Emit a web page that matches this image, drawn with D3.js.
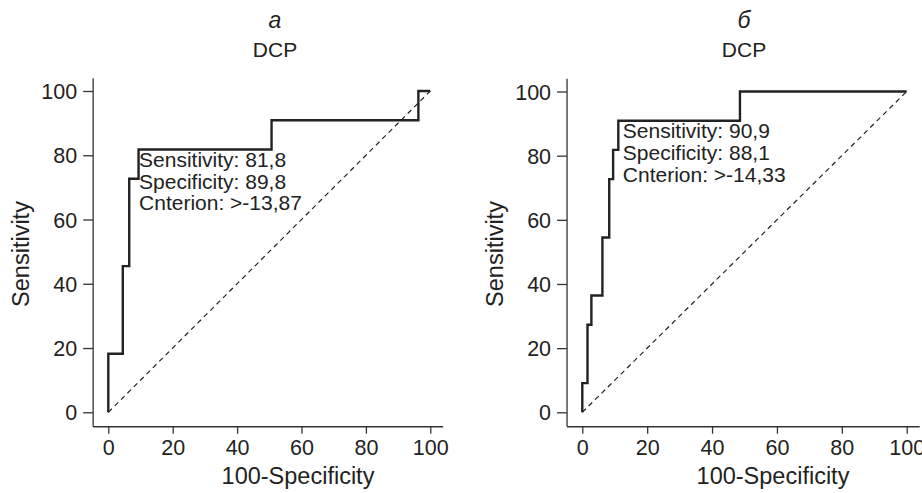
<!DOCTYPE html>
<html>
<head>
<meta charset="utf-8">
<script src="https://cdn.jsdelivr.net/npm/d3@7/dist/d3.min.js"></script>
<style>
  body{ margin:0; background:#fff; }
  svg{ display:block; font-family:"Liberation Sans", Arial, sans-serif; }
  .tick text{ font-size:21.5px; fill:#222; }
  .tick line{ stroke:#333; stroke-width:1.3; }
  .ann{ font-size:21px; fill:#222; }
  .ttl{ font-size:21px; fill:#222; }
  .axt{ font-size:23.5px; fill:#222; }
</style>
</head>
<body>
<svg id="chart" width="922" height="493"></svg>
<script>
/* Dos curvas ROC (a / б) para DCP */

const ticks = [0, 20, 40, 60, 80, 100];

// panel a
const fprA = [0, 0, 4.5, 4.5, 6.5, 6.5, 9.4, 9.4, 50.7, 50.7, 96.3, 96.3, 100];
const tprA = [0, 18.2, 18.2, 45.5, 45.5, 72.7, 72.7, 81.8, 81.8, 90.9, 90.9, 100, 100];
const annA = ["Sensitivity: 81,8", "Specificity: 89,8", "Cnterion: >-13,87"];

// panel б
const fprB = [0, 0, 1.6, 1.6, 2.8, 2.8, 6.2, 6.2, 8.3, 8.3, 9.5, 9.5, 11.1, 11.1, 48.6, 48.6, 100];
const tprB = [0, 9.1, 9.1, 27.3, 27.3, 36.4, 36.4, 54.5, 54.5, 72.7, 72.7, 81.8, 81.8, 90.9, 90.9, 100, 100];
const annB = ["Sensitivity: 90,9", "Specificity: 88,1", "Cnterion: >-14,33"];

const svg = d3.select("#chart");

const panels = [
  { letter:"a", fpr:fprA, tpr:tprA, ann:annA, annAt:[9.4, 81.8], annDx:0,
    xr:[108.3, 430.3], yr:[412.3, 91], titleX:275, axisTitleX:298, yTitleX:29 },
  { letter:"б", fpr:fprB, tpr:tprB, ann:annB, annAt:[11.1, 90.9], annDx:4,
    xr:[582.3, 906.7], yr:[412.3, 91.5], titleX:744, axisTitleX:773, yTitleX:503 }
];

panels.forEach(p => {
  const x = d3.scaleLinear().domain([0, 100]).range(p.xr);
  const y = d3.scaleLinear().domain([0, 100]).range(p.yr);
  const g = svg.append("g");

  // ejes: la línea del eje va algo más allá de 0 y 100
  const x0 = x(-4.7), y0 = y(-4.5);
  g.append("line").attr("x1", x0).attr("x2", x(104)).attr("y1", y0).attr("y2", y0)
    .attr("stroke", "#333").attr("stroke-width", 1.3);
  g.append("line").attr("x1", x0).attr("x2", x0).attr("y1", y0).attr("y2", y(104))
    .attr("stroke", "#333").attr("stroke-width", 1.3);

  const gx = g.append("g").attr("transform", `translate(0,${y0})`)
    .call(d3.axisBottom(x).tickValues(ticks).tickSize(7).tickPadding(6));
  gx.select(".domain").remove();

  const gy = g.append("g").attr("transform", `translate(${x0},0)`)
    .call(d3.axisLeft(y).tickValues(ticks).tickSize(10).tickPadding(6));
  gy.select(".domain").remove();
  gy.selectAll(".tick text").attr("dy", "0.35em");

  // diagonal de referencia
  g.append("line")
    .attr("x1", x(0)).attr("y1", y(0)).attr("x2", x(100)).attr("y2", y(100))
    .attr("stroke", "#222").attr("stroke-width", 1.2).attr("stroke-dasharray", "5,4");

  // curva ROC
  const line = d3.line().x(d => x(d[0])).y(d => y(d[1]));
  g.append("path")
    .datum(p.fpr.map((v, i) => [v, p.tpr[i]]))
    .attr("d", line)
    .attr("fill", "none").attr("stroke", "#222").attr("stroke-width", 2.4)
    .attr("stroke-linejoin", "miter");

  // anotación del punto de corte
  const ax = x(p.annAt[0]) + 0.5 + p.annDx, ay = y(p.annAt[1]) + 17.5;
  p.ann.forEach((t, i) => {
    g.append("text").attr("class", "ann")
      .attr("x", ax).attr("y", ay + i * 21.7).text(t);
  });

  // títulos
  g.append("text").attr("class", "ttl").attr("x", p.titleX).attr("y", 28)
    .attr("text-anchor", "middle").style("font-style", "italic").style("font-size", "23px")
    .text(p.letter);
  g.append("text").attr("class", "ttl").attr("x", p.titleX).attr("y", 57)
    .attr("text-anchor", "middle").text("DCP");
  g.append("text").attr("class", "axt").attr("x", p.axisTitleX).attr("y", 484)
    .attr("text-anchor", "middle").text("100-Specificity");
  g.append("text").attr("class", "axt")
    .attr("transform", `translate(${p.yTitleX},254) rotate(-90)`)
    .attr("text-anchor", "middle").text("Sensitivity");
});
</script>
</body>
</html>
